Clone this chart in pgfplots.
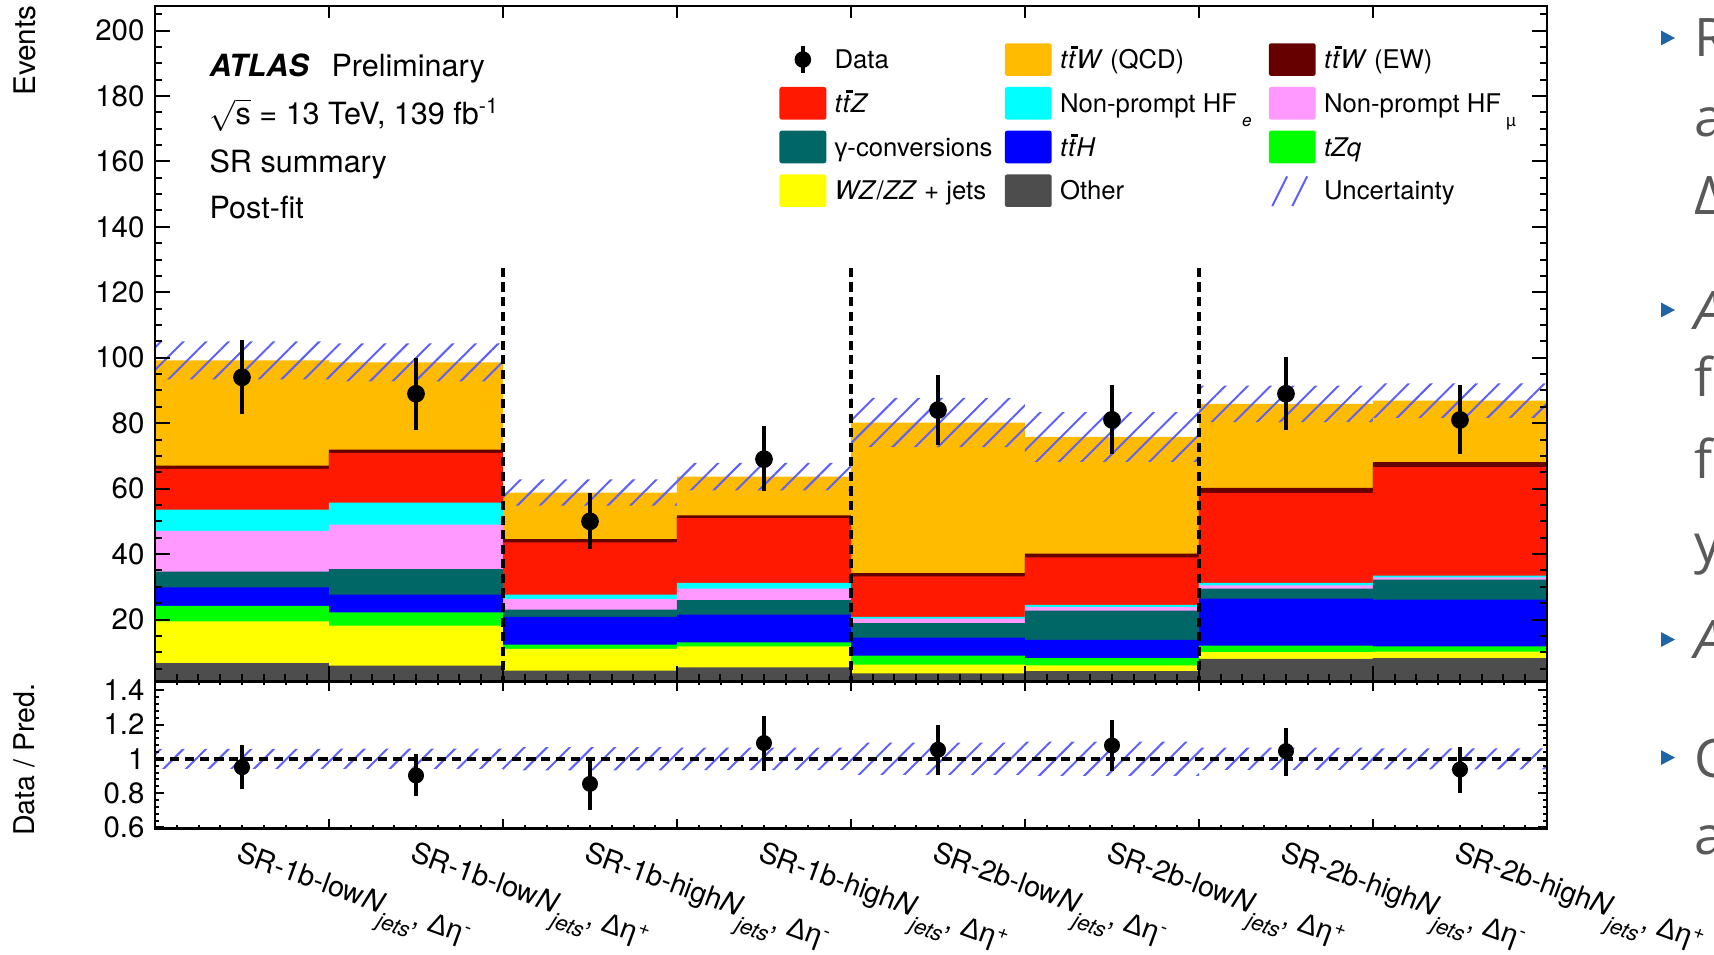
\documentclass[border=0pt]{standalone}
\usepackage{fontspec}
\setmainfont{TeX Gyre Heros}
\newfontfamily\grk{Liberation Sans}
\newfontfamily\slide{Open Sans}
\usepackage{pgfplots}
\pgfplotsset{compat=1.18}
\usepackage{pgfplotstable}
\usetikzlibrary{patterns.meta}

\definecolor{cOther}{RGB}{77,77,77}
\definecolor{cWZ}{RGB}{255,255,0}
\definecolor{cTZQ}{RGB}{0,255,0}
\definecolor{cTTH}{RGB}{0,0,255}
\definecolor{cConv}{RGB}{0,102,102}
\definecolor{cHFmu}{RGB}{255,153,255}
\definecolor{cHFe}{RGB}{0,255,255}
\definecolor{cTTZ}{RGB}{255,25,0}
\definecolor{cTTWEW}{RGB}{102,0,0}
\definecolor{cTTWQCD}{RGB}{255,187,0}
\definecolor{cHatch}{RGB}{95,95,250}
\definecolor{slidegray}{RGB}{89,89,89}
\definecolor{slideblue}{RGB}{31,100,165}

\newcommand{\tbar}{\textit{t}\llap{\raisebox{0.76em}{\rule{0.27em}{0.11em}}\kern-0.08em}}
\newcommand{\ttb}{\textit{t}\tbar}
\newcommand{\LE}[2]{\makebox[#1][l]{\smash{\raisebox{-0.36em}{#2}}}}
\newcommand{\subl}[1]{\kern0.2em\raisebox{-0.55em}{\fontsize{6}{7}\selectfont #1}}
\newcommand{\jets}{\textit{N}\raisebox{-0.5em}{\fontsize{7.6}{8}\selectfont\itshape jets}}

% cumulative tops of the stacked contributions (bin left edge; last row repeats bin 8)
\pgfplotstableread{
edge other wz tzq tth conv hfmu hfe ttz ttwew ttwqcd
0 6.7 19.4 24.2 29.8 34.6 47.1 53.6 66.0 67.0 99.2
1 5.9 18.1 22.2 27.6 35.4 49.0 55.7 70.9 71.9 98.6
2 4.4 11.0 12.3 20.8 23.0 26.3 27.6 43.6 44.6 58.8
3 5.4 11.8 13.0 21.5 25.9 29.4 31.2 51.0 51.8 63.7
4 3.5 6.2 9.0 14.5 18.9 20.3 20.8 33.2 34.2 80.2
5 4.2 6.0 8.2 13.8 22.7 23.8 24.5 39.0 40.1 75.8
6 8.0 10.0 12.0 26.4 29.4 30.4 31.2 58.7 60.2 85.9
7 8.2 10.2 11.8 26.1 32.2 32.9 33.4 66.6 68.1 86.9
8 8.2 10.2 11.8 26.1 32.2 32.9 33.4 66.6 68.1 86.9
}\stacktops

\pgfplotstableread{
x y ep em
0.5 94 10.3 10.1
1.5 89 9.9 10.0
2.5 50 7.6 7.4
3.5 69 9.0 8.6
4.5 84 9.8 9.6
5.5 81 9.7 9.3
6.5 89 10.2 10.0
7.5 81 9.7 9.3
}\datamain

\pgfplotstableread{
x y ep em
0.5 0.951 0.108 0.107
1.5 0.903 0.107 0.102
2.5 0.854 0.136 0.131
3.5 1.092 0.137 0.141
4.5 1.053 0.123 0.127
5.5 1.078 0.127 0.130
6.5 1.045 0.117 0.126
7.5 0.938 0.111 0.119
}\dataratio

\pgfplotsset{
  atlasframe/.style={
    scale only axis, axis on top,
    xmin=0, xmax=8,
    tick align=inside, ytick pos=both,
    tick style={black, line width=0.7pt},
    axis line style={line width=1pt},
    /pgf/number format/assume math mode=true,
    tick label style={font=\fontsize{10.3}{12}\selectfont},
    yticklabel style={inner sep=0pt, xshift=-3.5pt},
  },
  swatch/.style={legend image code/.code={%
    \path[draw=none,fill=none] (0pt,-5.7pt) rectangle (19.3pt,5.7pt);
    \fill[draw=none,#1,rounded corners=0.8pt] (0pt,-5.7pt) rectangle (16.4pt,5.7pt);}},
  hatch/.style={draw=none, pattern={Lines[angle=45,distance=5.6pt,line width=0.7pt]}, pattern color=cHatch},
}

\begin{document}
\begin{tikzpicture}

% ---------------- main panel ----------------
\begin{axis}[atlasframe,
  at={(54.25pt,95.66pt)}, anchor=south west,
  width=487.2pt, height=236.5pt,
  ymin=1, ymax=207.5,
  xtick pos=bottom,
  xtick={0,...,8}, xticklabels={}, minor x tick num=7,
  ytick={0,20,...,220}, minor y tick num=3,
  major tick length=5.4pt, minor tick length=2.6pt,
  legend columns=3, legend cell align=left,
  legend style={at={(0.4486,0.9448)}, anchor=north west, draw=none, fill=none,
    inner sep=0pt, outer sep=0pt, row sep=3.9pt, column sep=0pt,
    nodes={inner sep=0pt, outer sep=0pt, text depth=0pt},
    font=\fontsize{9}{10.8}\selectfont},
]
% legend samples
\addlegendimage{legend image code/.code={\path[draw=none,fill=none] (0pt,-5.7pt) rectangle (19.3pt,5.7pt);
  \draw[black,line width=1.4pt] (8.2pt,-4.7pt) -- (8.2pt,4.7pt);
  \fill[black,draw=none] (8.2pt,0pt) circle (2.9pt);}}
\addlegendentry{\LE{59.6pt}{Data}}
\addlegendimage{swatch=cTTWQCD}
\addlegendentry{\LE{73.1pt}{\ttb\textit{W} (QCD)}}
\addlegendimage{swatch=cTTWEW}
\addlegendentry{\LE{70pt}{\ttb\textit{W} (EW)}}
\addlegendimage{swatch=cTTZ}
\addlegendentry{\LE{59.6pt}{\ttb\textit{Z}}}
\addlegendimage{swatch=cHFe}
\addlegendentry{\LE{73.1pt}{Non-prompt HF\subl{\itshape e}}}
\addlegendimage{swatch=cHFmu}
\addlegendentry{\LE{70pt}{Non-prompt HF\subl{\grk µ}}}
\addlegendimage{swatch=cConv}
\addlegendentry{\LE{59.6pt}{{\grk γ}-conversions}}
\addlegendimage{swatch=cTTH}
\addlegendentry{\LE{73.1pt}{\ttb\textit{H}}}
\addlegendimage{swatch=cTZQ}
\addlegendentry{\LE{70pt}{\textit{tZq}}}
\addlegendimage{swatch=cWZ}
\addlegendentry{\LE{59.6pt}{\textit{WZ}/\textit{ZZ} + jets}}
\addlegendimage{swatch=cOther}
\addlegendentry{\LE{73.1pt}{Other}}
\addlegendimage{legend image code/.code={\path[draw=none,fill=none] (0pt,-5.7pt) rectangle (19.3pt,5.7pt);
  \draw[cHatch,line width=0.7pt] (1.2pt,-5.4pt) -- (6.4pt,5pt) (8.2pt,-5.4pt) -- (13.4pt,5pt);}}
\addlegendentry{\LE{70pt}{Uncertainty}}

% stacked histogram (drawn top-down, each from zero)
\addplot[const plot, fill=cTTWQCD, draw=none, forget plot] table[x=edge,y=ttwqcd]{\stacktops} \closedcycle;
\addplot[const plot, fill=cTTWEW, draw=none, forget plot] table[x=edge,y=ttwew]{\stacktops} \closedcycle;
\addplot[const plot, fill=cTTZ, draw=none, forget plot] table[x=edge,y=ttz]{\stacktops} \closedcycle;
\addplot[const plot, fill=cHFe, draw=none, forget plot] table[x=edge,y=hfe]{\stacktops} \closedcycle;
\addplot[const plot, fill=cHFmu, draw=none, forget plot] table[x=edge,y=hfmu]{\stacktops} \closedcycle;
\addplot[const plot, fill=cConv, draw=none, forget plot] table[x=edge,y=conv]{\stacktops} \closedcycle;
\addplot[const plot, fill=cTTH, draw=none, forget plot] table[x=edge,y=tth]{\stacktops} \closedcycle;
\addplot[const plot, fill=cTZQ, draw=none, forget plot] table[x=edge,y=tzq]{\stacktops} \closedcycle;
\addplot[const plot, fill=cWZ, draw=none, forget plot] table[x=edge,y=wz]{\stacktops} \closedcycle;
\addplot[const plot, fill=cOther, draw=none, forget plot] table[x=edge,y=other]{\stacktops} \closedcycle;

% uncertainty band (upper edge left to right, lower edge right to left)
\addplot[hatch, forget plot] coordinates {
  (0,105.0) (1,105.0) (1,104.4) (2,104.4) (2,62.8) (3,62.8) (3,67.9) (4,67.9)
  (4,87.7) (5,87.7) (5,83.4) (6,83.4) (6,91.5) (7,91.5) (7,92.2) (8,92.2)
  (8,81.6) (7,81.6) (7,80.3) (6,80.3) (6,68.2) (5,68.2) (5,72.7) (4,72.7)
  (4,59.5) (3,59.5) (3,54.8) (2,54.8) (2,92.8) (1,92.8) (1,93.4) (0,93.4)} -- cycle;

% separators
\addplot[black, line width=1.5pt, dash pattern=on 3.2pt off 1.9pt, forget plot] coordinates {(2,0) (2,128)};
\addplot[black, line width=1.5pt, dash pattern=on 3.2pt off 1.9pt, forget plot] coordinates {(4,0) (4,128)};
\addplot[black, line width=1.5pt, dash pattern=on 3.2pt off 1.9pt, forget plot] coordinates {(6,0) (6,128)};

% data
\addplot[black, only marks, mark=*, mark size=2.9pt, forget plot,
  error bars/.cd, y dir=both, y explicit,
  error bar style={line width=1.5pt, black},
  error mark options={line width=1.4pt, mark size=1.2pt, black}]
  table[x=x, y=y, y error plus=ep, y error minus=em]{\datamain};

% top-edge bin ticks (major only, as in the reference)
\pgfplotsinvokeforeach{1,...,7}{\draw[black, line width=0.7pt] (axis cs:#1,207.5) -- ++(0pt,-4.3pt);}
\end{axis}

% ---------------- ratio panel ----------------
\begin{axis}[atlasframe,
  at={(54.25pt,44.35pt)}, anchor=south west,
  width=487.2pt, height=51.31pt,
  ymin=0.595, ymax=1.45,
  xtick pos=both,
  xtick={0,...,8}, x tick label as interval, minor x tick num=7,
  xticklabels={
    {SR-1b-low\jets, {\grk Δη}\textsuperscript{-}},
    {SR-1b-low\jets, {\grk Δη}\textsuperscript{+}},
    {SR-1b-high\jets, {\grk Δη}\textsuperscript{-}},
    {SR-1b-high\jets, {\grk Δη}\textsuperscript{+}},
    {SR-2b-low\jets, {\grk Δη}\textsuperscript{-}},
    {SR-2b-low\jets, {\grk Δη}\textsuperscript{+}},
    {SR-2b-high\jets, {\grk Δη}\textsuperscript{-}},
    {SR-2b-high\jets, {\grk Δη}\textsuperscript{+}}},
  xticklabel style={rotate=-20, anchor=north west, inner sep=0pt, font=\fontsize{10}{11}\selectfont},
  xticklabel shift=4.0pt,
  ytick={0.6,0.8,1,1.2,1.4}, minor y tick num=4,
  major tick length=3.2pt, minor tick length=1.3pt,
]
\addplot[hatch, forget plot] coordinates {
  (0,1.058) (1,1.058) (1,1.059) (2,1.059) (2,1.068) (3,1.068) (3,1.066) (4,1.066)
  (4,1.094) (5,1.094) (5,1.100) (6,1.100) (6,1.065) (7,1.065) (7,1.061) (8,1.061)
  (8,0.939) (7,0.939) (7,0.935) (6,0.935) (6,0.900) (5,0.900) (5,0.906) (4,0.906)
  (4,0.934) (3,0.934) (3,0.932) (2,0.932) (2,0.941) (1,0.941) (1,0.942) (0,0.942)} -- cycle;
\addplot[black, line width=1.4pt, dash pattern=on 3.2pt off 2pt, forget plot] coordinates {(0,1) (8,1)};
\addplot[black, only marks, mark=*, mark size=2.6pt, forget plot,
  error bars/.cd, y dir=both, y explicit,
  error bar style={line width=1.5pt, black},
  error mark options={line width=1.4pt, mark size=1.2pt, black}]
  table[x=x, y=y, y error plus=ep, y error minus=em]{\dataratio};
\end{axis}

% ---------------- texts ----------------
\node[rotate=90, anchor=east, inner sep=0pt, font=\fontsize{10.4}{12}\selectfont] at (8.6pt,332.5pt) {Events};
\node[rotate=90, anchor=center, inner sep=0pt, font=\fontsize{10}{12}\selectfont] at (8.6pt,68.4pt) {Data / Pred.};

\node[anchor=base west, inner sep=0pt, font=\fontsize{10.7}{12}\selectfont\bfseries\itshape] at (73.15pt,307.4pt) {ATLAS};
\node[anchor=base west, inner sep=0pt, font=\fontsize{10.7}{12}\selectfont] at (115.85pt,307.4pt) {Preliminary};
\node[anchor=base west, inner sep=0pt, font=\fontsize{10.7}{12}\selectfont] at (73.15pt,290.5pt) {$\sqrt{\mbox{s}}$ = 13 TeV, 139 fb\textsuperscript{-1}};
\node[anchor=base west, inner sep=0pt, font=\fontsize{10.7}{12}\selectfont] at (73.15pt,273.8pt) {SR summary};
\node[anchor=base west, inner sep=0pt, font=\fontsize{10.7}{12}\selectfont] at (73.15pt,257.6pt) {Post-fit};

% ---------------- slide fragments at the right edge ----------------
\begin{scope}
\clip (0,0) rectangle (599.9pt,334.25pt);
\foreach \yc in {320.95,225.75,110.4,69.1}{
  \fill[slideblue] (581.35pt,\yc pt+2.6pt) -- (586.25pt,\yc pt) -- (581.35pt,\yc pt-2.6pt) -- cycle;}
\begin{scope}[every node/.style={anchor=base west, inner sep=0pt, text=slidegray, font=\slide\fontsize{18.6}{20}\selectfont}]
\node at (592.9pt,314.4pt) {R};
\node at (592.9pt,286.4pt) {a};
\node at (592.9pt,259.0pt) {Δ};
\node at (592.9pt,218.75pt) {\itshape A};
\node at (592.9pt,195.4pt) {f};
\node at (592.9pt,166.6pt) {f};
\node at (592.9pt,137.2pt) {y};
\node at (592.9pt,103.6pt) {\itshape A};
\node at (592.9pt,61.95pt) {C};
\node at (592.9pt,35.0pt) {a};
\end{scope}
\end{scope}

\pgfresetboundingbox
\path[use as bounding box] (0,0) rectangle (599.9pt,334.25pt);
\end{tikzpicture}
\end{document}
